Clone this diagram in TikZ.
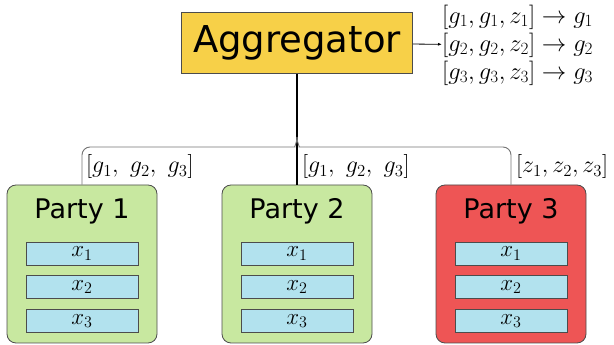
\RequirePackage{fix-cm}
\documentclass[tikz,border=0pt]{standalone}
\usepackage{amsmath}
\usepackage{fontspec}
\setsansfont{DejaVu Sans}
\usetikzlibrary{positioning,arrows.meta,calc}

\definecolor{aggyellow}{RGB}{247,208,72}
\definecolor{partygreen}{RGB}{200,232,160}
\definecolor{partyred}{RGB}{238,85,85}
\definecolor{rowblue}{RGB}{178,226,238}

\begin{document}
\begin{tikzpicture}[
    x=1pt, y=1pt,
    box/.style={draw=black!70, line width=0.8pt},
    party/.style={box, rounded corners=9pt, minimum width=150pt, minimum height=158pt, fill=partygreen},
    ptitle/.style={font=\sffamily\fontsize{27}{30}\selectfont},
    row/.style={box, fill=rowblue, minimum width=112pt, minimum height=23pt, inner sep=0pt, font=\fontsize{23}{24}\selectfont},
    lbl/.style={font=\fontsize{24}{28}\selectfont, inner sep=0pt},
    tree/.style={draw=black!55, line width=0.9pt, rounded corners=8pt},
  ]
  \useasboundingbox (0,0) rectangle (614,345);

  % aggregator and its outputs
  \node[box, fill=aggyellow, minimum width=231pt, minimum height=61pt,
        font=\sffamily\fontsize{37}{40}\selectfont] (agg) at (297,302) {Aggregator};
  \node[lbl, anchor=west, align=left, font=\fontsize{24.5}{28}\selectfont] (res) at (442,300)
    {$[g_1,g_1,z_1]\rightarrow g_1$\\$[g_2,g_2,z_2]\rightarrow g_2$\\$[g_3,g_3,z_3]\rightarrow g_3$};
  \draw[-{Latex[length=4pt]}, line width=0.8pt] (agg) -- (res);

  % parties
  \node[party] (p1) at (82,81) {};
  \node[ptitle] (t1) at (82,134) {Party 1};
  \node[row] (p1a) at (82,91.5) {$x_1$};
  \node[row, below=10pt of p1a] (p1b) {$x_2$};
  \node[row, below=10pt of p1b] (p1c) {$x_3$};

  \node[party] (p2) at (297,81) {};
  \node[ptitle] (t2) at (297,134) {Party 2};
  \node[row] (p2a) at (297,91.5) {$x_1$};
  \node[row, below=10pt of p2a] (p2b) {$x_2$};
  \node[row, below=10pt of p2b] (p2c) {$x_3$};

  \node[party, fill=partyred] (p3) at (511,81) {};
  \node[ptitle] (t3) at (511,134) {Party 3};
  \node[row] (p3a) at (511,91.5) {$x_1$};
  \node[row, below=10pt of p3a] (p3b) {$x_2$};
  \node[row, below=10pt of p3b] (p3c) {$x_3$};

  % links
  \coordinate (jn) at (297,208);
  \draw[line width=1.1pt] (agg.south) -- (p2.north);
  \draw[tree] (p1.north) |- ($(jn)+(-10,-10)$) .. controls ($(jn)+(-3,-10)$) and ($(jn)+(0,-6)$) .. (jn);
  \draw[tree] (p3.north) |- ($(jn)+(10,-10)$) .. controls ($(jn)+(3,-10)$) and ($(jn)+(0,-6)$) .. (jn);

  \node[lbl, anchor=south west] (l1) at ($(p1.north)+(4,6)$) {$[g_1,\ g_2,\ g_3]$};
  \node[lbl, anchor=south west] (l2) at ($(p2.north)+(5,6)$) {$[g_1,\ g_2,\ g_3]$};
  \node[lbl, anchor=south west] (l3) at ($(p3.north)+(5,6)$) {$[z_1,z_2,z_3]$};
\end{tikzpicture}
\end{document}
